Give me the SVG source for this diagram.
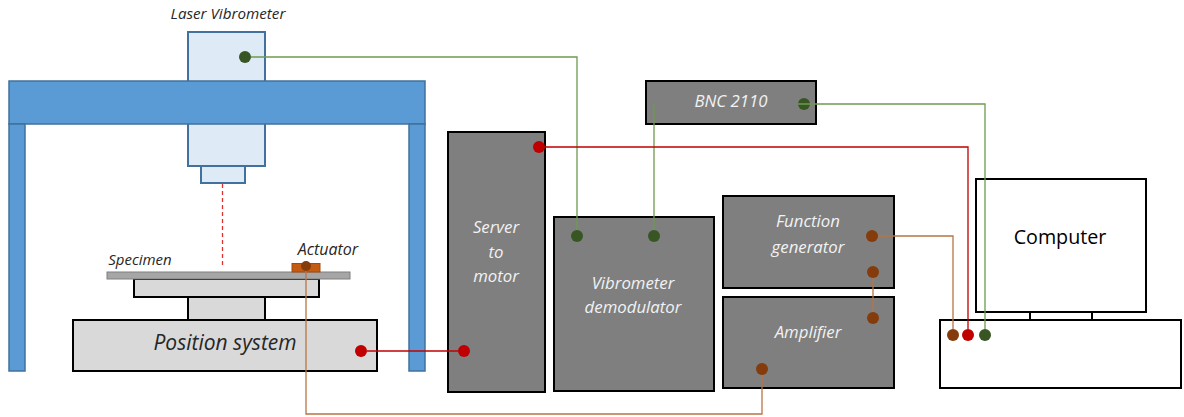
<svg xmlns="http://www.w3.org/2000/svg" width="1184" height="417" viewBox="0 0 1184 417">
  <style>
    .frame { fill: #5b9bd5; stroke: #41719c; stroke-width: 1.5; }
    .head { fill: #deebf7; stroke: #41719c; stroke-width: 2; }
    .stage { fill: #d9d9d9; stroke: #000; stroke-width: 2; }
    .unit { fill: #7f7f7f; stroke: #000; stroke-width: 2; }
    .pc { fill: #fff; stroke: #000; stroke-width: 2; }
    .lbl { font-family: "Open Sans", "Liberation Sans", sans-serif; font-style: italic; fill: #262626; text-anchor: middle; }
    .ulbl { font-family: "Open Sans", "Liberation Sans", sans-serif; font-style: italic; fill: #f2f2f2; text-anchor: middle; font-size: 16.8px; }
    .wire { fill: none; stroke-width: 1.3; }
    .g { stroke: #6f9a50; }
    .r { stroke: #c00000; }
    .b { stroke: #b87445; }
    .dg { fill: #375623; }
    .dr { fill: #c00000; }
    .db { fill: #843c0c; }
  </style>

  <!-- laser vibrometer head -->
  <g id="laser-vibrometer">
    <text class="lbl" x="228" y="19" font-size="15.2">Laser Vibrometer</text>
    <rect class="head" x="188" y="32" width="77" height="134"/>
    <rect class="head" x="201" y="166" width="44" height="17"/>
  </g>

  <!-- support frame -->
  <g id="frame">
    <rect class="frame" x="9" y="81" width="416" height="43"/>
    <rect class="frame" x="9" y="124" width="16" height="247"/>
    <rect class="frame" x="409" y="124" width="16" height="247"/>
  </g>
  <circle class="dg" cx="245" cy="57" r="6"/>

  <!-- specimen on positioning stage -->
  <g id="position-system">
    <rect class="stage" x="188" y="297" width="77" height="23"/>
    <rect class="stage" x="134" y="279" width="185" height="18"/>
    <rect class="stage" x="73" y="320" width="304" height="51"/>
    <text class="lbl" x="225" y="350" font-size="21">Position system</text>
    <circle class="dr" cx="361" cy="351" r="6"/>
  </g>
  <g id="specimen">
    <rect x="107" y="272" width="243" height="7" fill="#a6a6a6" stroke="#7f7f7f" stroke-width="1"/>
    <text class="lbl" x="140" y="265" font-size="15">Specimen</text>
  </g>
  <g id="actuator">
    <rect x="292" y="263.5" width="28" height="8.5" fill="#c55a11" stroke="#a04a10" stroke-width="1"/>
    <circle class="db" cx="306" cy="266" r="5"/>
    <text class="lbl" x="328" y="255" font-size="16">Actuator</text>
  </g>

  <!-- server to motor -->
  <g id="server">
    <rect class="unit" x="448" y="132" width="97" height="260"/>
    <text class="ulbl" x="496" y="233">Server</text>
    <text class="ulbl" x="496" y="258">to</text>
    <text class="ulbl" x="496" y="282">motor</text>
    <circle class="dr" cx="539" cy="147" r="6"/>
    <circle class="dr" cx="464" cy="351" r="6"/>
  </g>

  <!-- BNC 2110 -->
  <g id="bnc">
    <rect class="unit" x="646" y="81" width="170" height="43"/>
    <text class="ulbl" x="731" y="107">BNC 2110</text>
    <circle class="dg" cx="804" cy="104" r="6"/>
  </g>

  <!-- vibrometer demodulator -->
  <g id="demodulator">
    <rect class="unit" x="554" y="217" width="160" height="174"/>
    <text class="ulbl" x="633" y="289">Vibrometer</text>
    <text class="ulbl" x="633" y="313">demodulator</text>
    <circle class="dg" cx="577" cy="236" r="6"/>
    <circle class="dg" cx="654" cy="236" r="6"/>
  </g>

  <!-- function generator -->
  <g id="function-generator">
    <rect class="unit" x="723" y="196" width="171" height="92"/>
    <text class="ulbl" x="808" y="227">Function</text>
    <text class="ulbl" x="808" y="253">generator</text>
    <circle class="db" cx="872" cy="236" r="6"/>
    <circle class="db" cx="873" cy="272" r="6"/>
  </g>

  <!-- amplifier -->
  <g id="amplifier">
    <rect class="unit" x="723" y="297" width="171" height="91"/>
    <text class="ulbl" x="808" y="338">Amplifier</text>
    <circle class="db" cx="873" cy="318" r="6"/>
    <circle class="db" cx="762" cy="369" r="6"/>
  </g>

  <!-- computer -->
  <g id="computer">
    <rect class="pc" x="976" y="179" width="170" height="133"/>
    <rect class="pc" x="1030" y="312" width="62" height="8"/>
    <rect class="pc" x="940" y="320" width="241" height="68"/>
    <text x="1060" y="244" font-family="'Open Sans', 'Liberation Sans', sans-serif" font-size="19.7" fill="#000" text-anchor="middle">Computer</text>
    <circle class="db" cx="953" cy="335" r="6"/>
    <circle class="dr" cx="968" cy="335" r="6"/>
    <circle class="dg" cx="985" cy="335" r="6"/>
  </g>

  <!-- connectors: drawn over the equipment, ending at the terminal dots -->
  <g id="connectors">
    <polyline class="wire g" points="251,57 577,57 577,230"/>
    <polyline class="wire g" points="654,104 654,230"/>
    <polyline class="wire g" points="798,104 985,104 985,329"/>
    <polyline class="wire r" points="545,147 968,147 968,329"/>
    <polyline class="wire r" points="367,351 458,351"/>
    <polyline class="wire b" points="878,236 953,236 953,329"/>
    <polyline class="wire b" points="873,278 873,312"/>
    <polyline class="wire b" points="306,271 306,414 762,414 762,375"/>
    <line x1="222.5" y1="184" x2="222.5" y2="268" stroke="#e03030" stroke-width="1.3" stroke-dasharray="4,3"/>
  </g>
</svg>
